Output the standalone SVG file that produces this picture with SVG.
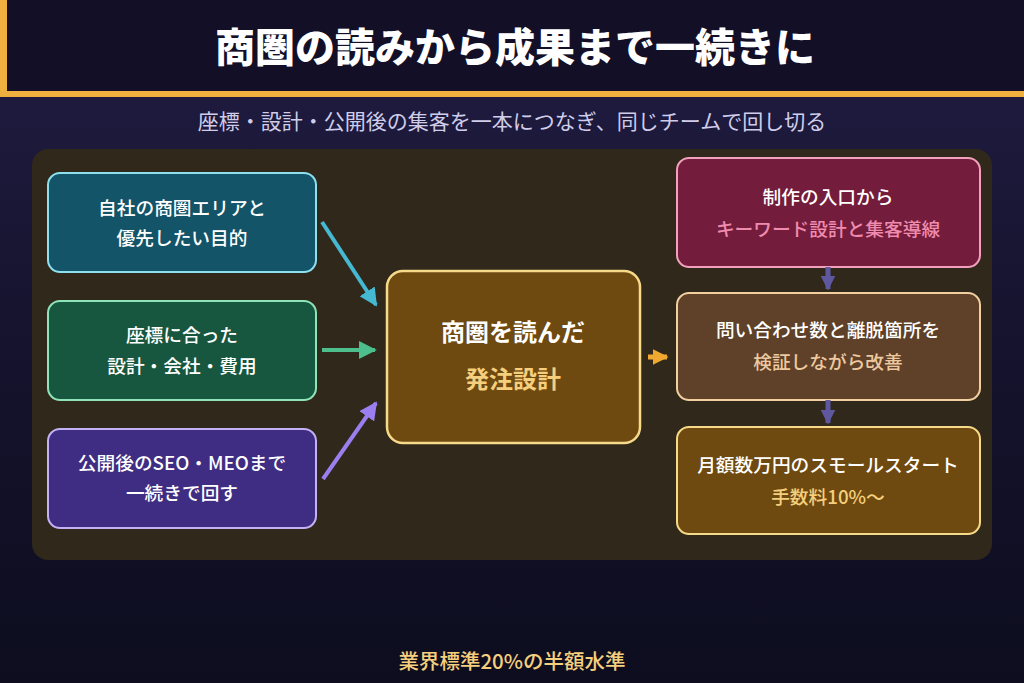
<svg xmlns="http://www.w3.org/2000/svg" width="1024" height="683" viewBox="0 0 1024 683">
<defs>
<linearGradient id="bg" x1="0" y1="0" x2="0" y2="1">
<stop offset="0" stop-color="#211d45"/>
<stop offset="0.45" stop-color="#16142f"/>
<stop offset="1" stop-color="#0d0d1f"/>
</linearGradient>
<marker id="mCyan" viewBox="0 0 10 10" refX="9" refY="5" markerWidth="4.5" markerHeight="4.5" orient="auto"><path d="M0,0 L10,5 L0,10 z" fill="#45b9d2"/></marker>
<marker id="mGreen" viewBox="0 0 10 10" refX="9" refY="5" markerWidth="4.5" markerHeight="4.5" orient="auto"><path d="M0,0 L10,5 L0,10 z" fill="#4cbf8c"/></marker>
<marker id="mPurple" viewBox="0 0 10 10" refX="9" refY="5" markerWidth="4.5" markerHeight="4.5" orient="auto"><path d="M0,0 L10,5 L0,10 z" fill="#9b7ef0"/></marker>
<marker id="mOrange" viewBox="0 0 10 10" refX="9" refY="5" markerWidth="3.2" markerHeight="3.2" orient="auto"><path d="M0,0 L10,5 L0,10 z" fill="#f0a830"/></marker>
<marker id="mSlate" viewBox="0 0 10 10" refX="9" refY="5" markerWidth="3" markerHeight="3" orient="auto"><path d="M0,0 L10,5 L0,10 z" fill="#5d58a0"/></marker>
</defs>
<style>
text{font-family:"Noto Sans CJK JP","Noto Sans",sans-serif;text-anchor:middle}
.t{font-size:18.7px;font-weight:500;fill:#ffffff}
.nd{stroke-width:2}
</style>
<rect x="0" y="0" width="1024" height="683" fill="url(#bg)"/>
<g id="header">
<rect x="0" y="0" width="1024" height="92" fill="#120f27"/>
<rect x="0" y="0" width="7" height="97" fill="#f0b040"/>
<rect x="0" y="91" width="1024" height="6" fill="#f0b040"/>
<text x="515" y="62" style="font-size:40px;font-weight:900;fill:#ffffff">商圏の読みから成果まで一続きに</text>
<text x="512" y="129" style="font-size:21px;fill:#cfcdea">座標・設計・公開後の集客を一本につなぎ、同じチームで回し切る</text>
</g>
<rect id="panel" x="32" y="149" width="960" height="411" rx="16" fill="#30281a"/>
<g id="n1">
<rect class="nd" x="48" y="173" width="268" height="99" rx="12" fill="#135468" stroke="#8ee0ee"/>
<text class="t" x="182" y="215">自社の商圏エリアと</text>
<text class="t" x="182" y="245">優先したい目的</text>
</g>
<g id="n2">
<rect class="nd" x="48" y="301" width="268" height="99" rx="12" fill="#17573f" stroke="#8fe3b8"/>
<text class="t" x="182" y="342">座標に合った</text>
<text class="t" x="182" y="373">設計・会社・費用</text>
</g>
<g id="n3">
<rect class="nd" x="48" y="429" width="268" height="99" rx="12" fill="#3f2d83" stroke="#c4b0f5"/>
<text class="t" x="182" y="470">公開後のSEO・MEOまで</text>
<text class="t" x="182" y="500">一続きで回す</text>
</g>
<g id="center">
<rect x="387" y="271" width="253" height="172" rx="16" fill="#6e4a10" stroke="#f7d98a" stroke-width="2.5"/>
<text x="513" y="341" style="font-size:24px;font-weight:700;fill:#ffffff">商圏を読んだ</text>
<text x="513" y="388" style="font-size:24px;font-weight:700;fill:#f5cf7d">発注設計</text>
</g>
<g id="r1">
<rect class="nd" x="677" y="158" width="303" height="109" rx="12" fill="#741c3c" stroke="#f2a0bd"/>
<text class="t" x="828" y="204">制作の入口から</text>
<text class="t" x="828" y="236" style="fill:#f08bb0">キーワード設計と集客導線</text>
</g>
<g id="r2">
<rect class="nd" x="677" y="293" width="303" height="107" rx="12" fill="#5e4128" stroke="#f1cfa0"/>
<text class="t" x="828" y="337">問い合わせ数と離脱箇所を</text>
<text class="t" x="828" y="369" style="fill:#eec9a0">検証しながら改善</text>
</g>
<g id="r3">
<rect class="nd" x="677" y="427" width="303" height="107" rx="12" fill="#6e4a10" stroke="#f7d98a"/>
<text class="t" x="828" y="472">月額数万円のスモールスタート</text>
<text class="t" x="828" y="504" style="fill:#f5cf7d">手数料10%〜</text>
</g>
<g id="connectors" fill="none">
<line x1="322" y1="222" x2="376" y2="305" stroke="#45b9d2" stroke-width="4" marker-end="url(#mCyan)"/>
<line x1="322" y1="350" x2="375" y2="350" stroke="#4cbf8c" stroke-width="4" marker-end="url(#mGreen)"/>
<line x1="323" y1="479" x2="376" y2="403" stroke="#9b7ef0" stroke-width="4" marker-end="url(#mPurple)"/>
<line x1="648" y1="357" x2="667" y2="357" stroke="#f0a830" stroke-width="5" marker-end="url(#mOrange)"/>
<line x1="828" y1="267" x2="828" y2="289" stroke="#5d58a0" stroke-width="5" marker-end="url(#mSlate)"/>
<line x1="828" y1="400" x2="828" y2="423" stroke="#5d58a0" stroke-width="5" marker-end="url(#mSlate)"/>
</g>
<text id="footer" x="512" y="669" style="font-size:20.5px;font-weight:500;fill:#f5cf7d">業界標準20%の半額水準</text>
</svg>
